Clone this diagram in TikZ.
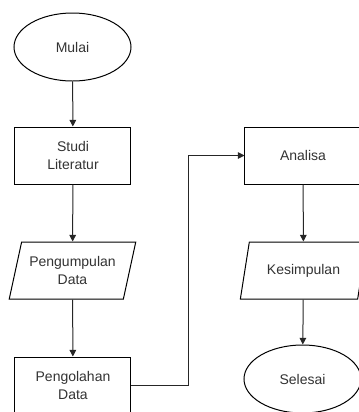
\documentclass[tikz,border=0pt]{standalone}
\usepackage{fontspec}
\setmainfont{Liberation Sans}
\usetikzlibrary{shapes.geometric, arrows.meta}

\begin{document}
\begin{tikzpicture}[
    x = 0.75pt, y = -0.75pt,
    font = \fontsize{10.5}{14}\selectfont,
    terminal/.style={draw, fill=white, ellipse, minimum width=87.75pt, minimum height=51pt, text=black!80, align=center, line width=0.75pt},
    process/.style={draw, fill=white, rectangle, minimum width=87pt, minimum height=42.75pt, text=black!80, align=center, line width=0.75pt},
    data/.style={draw, fill=white, trapezium, trapezium stretches=true, trapezium left angle=74, trapezium right angle=106, minimum width=95.25pt, minimum height=42.75pt, inner xsep=1pt, text=black!80, align=center, line width=0.75pt},
    arrow/.style={->, >={Triangle[length=5pt, width=5pt]}, line width=0.75pt, color=black!85}
]
    \useasboundingbox (0, 0) rectangle (359, 412);
    \clip (0, 0) rectangle (359, 412);

    % Mulai
    \node (mulai) at (72.5, 47) [terminal] {Mulai};

    % Studi Literatur
    \node (studi) at (73, 155.5) [process] {Studi\\Literatur};

    % Pengumpulan Data
    \node (pengumpulan) at (72.5, 270.5) [data] {Pengumpulan\\Data};

    % Pengolahan Data
    \node (pengolahan) at (73, 385.5) [process] {Pengolahan\\Data};

    % Analisa
    \node (analisa) at (303, 155.5) [process] {Analisa};

    % Kesimpulan
    \node (kesimpulan) at (303.5, 270.5) [data] {Kesimpulan};

    % Selesai
    \node (selesai) at (302.5, 379) [terminal] {Selesai};

    % Arrows
    \draw[arrow] (mulai) -- (studi);
    \draw[arrow] (studi) -- (pengumpulan);
    \draw[arrow] (pengumpulan) -- (pengolahan);
    \draw[arrow] (pengolahan.east) -- ++(57, 0) |- (analisa.west);
    \draw[arrow] (analisa) -- (kesimpulan);
    \draw[arrow] (kesimpulan) -- (selesai);
\end{tikzpicture}
\end{document}
